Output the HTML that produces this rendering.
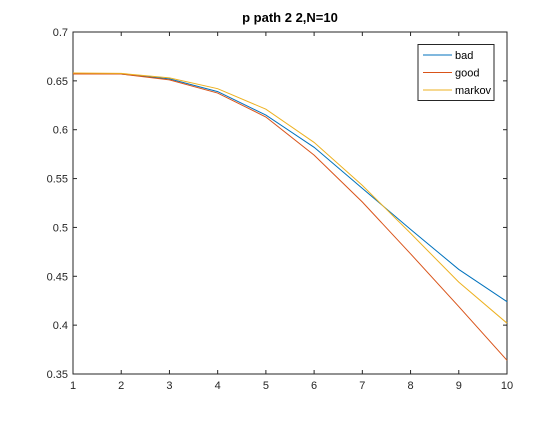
<!DOCTYPE html>
<html><head><meta charset="utf-8"><style>
html,body{margin:0;padding:0;background:#fff;}
svg text{font-family:"Liberation Sans Narrow","Liberation Sans",sans-serif;}
</style></head><body>
<svg id="chart" width="560" height="420" xmlns="http://www.w3.org/2000/svg">
<rect width="560" height="420" fill="#fff"/>
<text x="290" y="22" text-anchor="middle" font-size="13" font-weight="bold" fill="#000">p path 2 2,N=10</text>
<g id="axes"></g>
<g id="series"></g>
<g id="legend"></g>
</svg>
<script>
const xCategories=[1,2,3,4,5,6,7,8,9,10];
const badValues=[0.6574,0.657,0.652,0.639,0.615,0.582,0.540,0.498,0.457,0.424];
const goodValues=[0.657,0.657,0.651,0.6375,0.613,0.574,0.526,0.473,0.419,0.364];
const markovValues=[0.658,0.6576,0.653,0.642,0.621,0.587,0.543,0.494,0.444,0.402];
const yTicks=[0.35,0.4,0.45,0.5,0.55,0.6,0.65,0.7];
const yTickLabels=["0.35","0.4","0.45","0.5","0.55","0.6","0.65","0.7"];
const xTickLabels=["1","2","3","4","5","6","7","8","9","10"];
const seriesNames=["bad","good","markov"];
const seriesColors=["#0072BD","#D95319","#EDB120"];

const L=73,R=507,T=32,B=374;
const sx=v=>L+(v-1)/(10-1)*(R-L);
const sy=v=>B-(v-0.35)/(0.7-0.35)*(B-T);
const NS="http://www.w3.org/2000/svg";
function mk(tag,attrs,parent){const e=document.createElementNS(NS,tag);for(const k in attrs)e.setAttribute(k,attrs[k]);parent.appendChild(e);return e;}
const axes=document.getElementById('axes');
const box=mk('rect',{x:L,y:T,width:R-L,height:B-T,fill:'#fff',stroke:'#262626','stroke-width':1},axes);


yTicks.forEach((v,i)=>{
  const y=sy(v);
  mk('line',{x1:L,y1:y,x2:L+4,y2:y,stroke:'#262626'},axes);
  mk('line',{x1:R,y1:y,x2:R-4,y2:y,stroke:'#262626'},axes);
  const t=mk('text',{x:L-5,y:y+4,'text-anchor':'end','font-size':11,fill:'#262626'},axes);
  t.textContent=yTickLabels[i];
  
  
});
xCategories.forEach((v,i)=>{
  const x=sx(v);
  mk('line',{x1:x,y1:B,x2:x,y2:B-4,stroke:'#262626'},axes);
  mk('line',{x1:x,y1:T,x2:x,y2:T+4,stroke:'#262626'},axes);
  const t=mk('text',{x:x,y:B+15,'text-anchor':'middle','font-size':11,fill:'#262626'},axes);
  t.textContent=xTickLabels[i];
  
  
});
const seriesG=document.getElementById('series');
[badValues,goodValues,markovValues].forEach((vals,k)=>{
  const p=mk('polyline',{points:vals.map((v,i)=>sx(xCategories[i])+','+sy(v)).join(' '),fill:'none',stroke:seriesColors[k],'stroke-width':1},seriesG);
  
  
});
const lg=document.getElementById('legend');
mk('rect',{x:418,y:44.5,width:76,height:56,fill:'#fff',stroke:'#262626','stroke-width':1},lg);
seriesNames.forEach((n,k)=>{
  const y=55+k*17.5;
  mk('line',{x1:423,y1:y,x2:452,y2:y,stroke:seriesColors[k],'stroke-width':1},lg);
  const t=mk('text',{x:455,y:y+4,'font-size':11,fill:'#000'},lg);
  t.textContent=n;
  
  
});
</script>
</body></html>
